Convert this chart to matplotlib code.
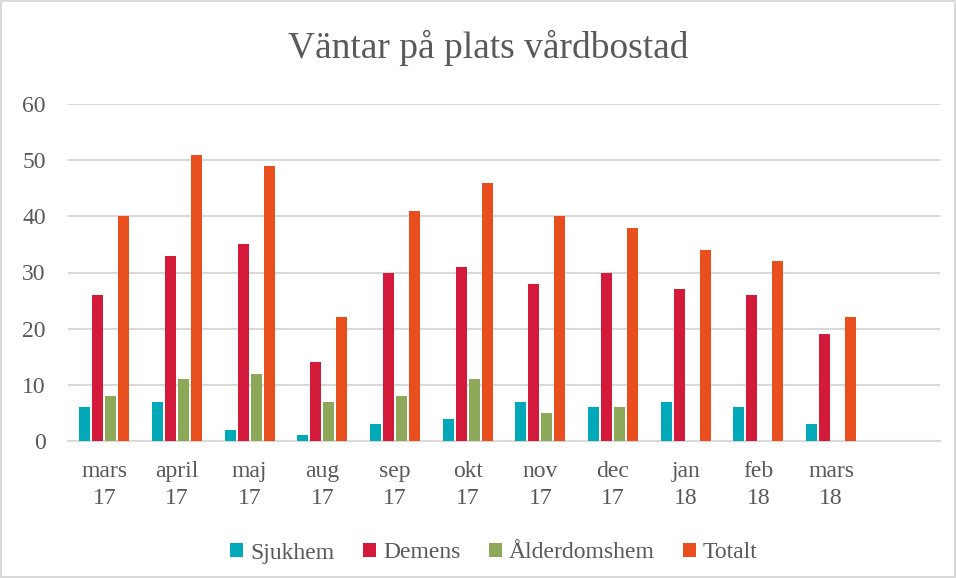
import matplotlib
matplotlib.use("Agg")
import matplotlib.pyplot as plt
import numpy as np

categories = ["mars\n17", "april\n17", "maj\n17", "aug\n17", "sep\n17", "okt\n17",
              "nov\n17", "dec\n17", "jan\n18", "feb\n18", "mars\n18"]
sjukhem = [6, 7, 2, 1, 3, 4, 7, 6, 7, 6, 3]
demens = [26, 33, 35, 14, 30, 31, 28, 30, 27, 26, 19]
alderdomshem = [8, 11, 12, 7, 8, 11, 5, 6, 0, 0, 0]
totalt = [40, 51, 49, 22, 41, 46, 40, 38, 34, 32, 22]
series_names = ["Sjukhem", "Demens", "Ålderdomshem", "Totalt"]
colors = ["#00A8B8", "#D41A3A", "#8EA85A", "#E94E1E"]
yticks = [0, 10, 20, 30, 40, 50, 60]

plt.rcParams['font.family'] = ['Liberation Serif', 'DejaVu Serif']
text_color = "#595959"

fig = plt.figure(figsize=(9.56, 5.78), dpi=100)
fig.patch.set_edgecolor("#D9D9D9")
fig.patch.set_linewidth(1.5)
ax = fig.add_axes([68/956, 1-441/578, (940-68)/956, (441-104)/578])

x = np.arange(len(categories))
n_slots = 12
bw = 0.152
step = 0.179
data = [sjukhem, demens, alderdomshem, totalt]
for i, (vals, c, name) in enumerate(zip(data, colors, series_names)):
    ax.bar(x + (i - 1.5) * step, vals, width=bw, color=c, label=name, zorder=3)

ax.set_xlim(-0.5, n_slots - 0.5)
ax.set_ylim(0, 60)
ax.set_yticks(yticks)
ax.set_xticks(x)
ax.set_xticklabels(categories)
ax.grid(axis='y', color="#D9D9D9", linewidth=1.5, zorder=0)
for s in ["top", "right", "left"]:
    ax.spines[s].set_visible(False)
ax.spines["bottom"].set_color("#D9D9D9")
ax.spines["bottom"].set_linewidth(1.5)
ax.tick_params(axis='both', length=0, labelsize=17, labelcolor=text_color)
ax.tick_params(axis='x', pad=14.5)
ax.tick_params(axis='y', pad=16)
for lab in ax.get_xticklabels():
    lab.set_linespacing(1.35)

fig.text(488/956, 1-58/578, "Väntar på plats vårdbostad", ha='center', va='baseline',
         fontsize=27, color=text_color)

leg = fig.legend(loc='center', bbox_to_anchor=(494/956, 1-553/578), ncol=4, frameon=False,
                 fontsize=17, labelcolor=text_color, handlelength=0.55, handleheight=0.55,
                 handletextpad=0.3, columnspacing=1.2)

fig.savefig("out.png", dpi=100)
